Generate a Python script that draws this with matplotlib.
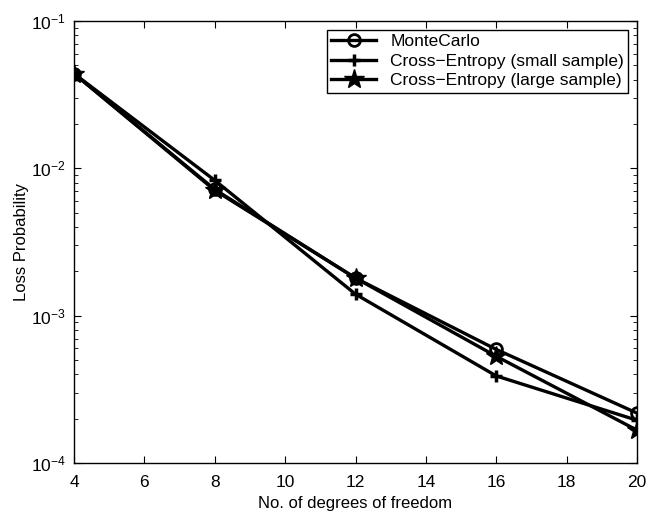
import matplotlib
matplotlib.use("Agg")
import matplotlib.pyplot as plt
from matplotlib.ticker import LogLocator, NullFormatter

plt.rcParams["font.family"] = ["Liberation Sans", "DejaVu Sans"]
plt.rcParams["mathtext.fontset"] = "custom"
plt.rcParams["mathtext.rm"] = "Liberation Sans"
plt.rcParams["mathtext.it"] = "Liberation Sans"

# data
dof = [4, 8, 12, 16, 20]
monte_carlo = [0.044, 0.0072, 0.0018, 0.00059, 0.000218]
ce_small = [0.044, 0.0083, 0.0014, 0.00039, 0.000195]
ce_large = [0.044, 0.0071, 0.0018, 0.00053, 0.000167]

labels = ["MonteCarlo", "Cross\u2212Entropy (small sample)", "Cross\u2212Entropy (large sample)"]
xticks = [4, 6, 8, 10, 12, 14, 16, 18, 20]

fig = plt.figure(figsize=(6.52, 5.15), dpi=100)
ax = fig.add_axes([0.1135, 0.101, 0.8635, 0.858])

ax.plot(dof, monte_carlo, color="black", lw=2.4, marker="o", ms=8.5,
        mfc="none", mew=2, label=labels[0])
ax.plot(dof, ce_small, color="black", lw=2.4, marker="+", ms=8,
        mew=2.5, label=labels[1])
ax.plot(dof, ce_large, color="black", lw=2.4, marker="*", ms=15,
        mew=1, label=labels[2])

ax.set_yscale("log")
ax.set_xlim(4, 20)
ax.set_ylim(1e-4, 1e-1)
ax.set_xticks(xticks)
ax.set_yticks([1e-4, 1e-3, 1e-2, 1e-1])
ax.yaxis.set_minor_locator(LogLocator(base=10, subs=range(2, 10)))
ax.yaxis.set_minor_formatter(NullFormatter())

ax.tick_params(which="both", direction="in", top=True, right=True, labelsize=12.5)
ax.tick_params(which="major", length=5)
ax.tick_params(which="minor", length=3)
ax.tick_params(axis="x", which="major", pad=9)
ax.tick_params(axis="y", which="major", pad=6)
for spine in ax.spines.values():
    spine.set_linewidth(1)

ax.set_xlabel("No. of degrees of freedom", fontsize=12, labelpad=4)
ax.set_ylabel("Loss Probability", fontsize=12, labelpad=1)

leg = ax.legend(loc="upper right", fontsize=12.5, fancybox=False,
                edgecolor="black", framealpha=1, borderaxespad=0.5,
                handlelength=2.6, labelspacing=0.25, borderpad=0.25)
leg.get_frame().set_linewidth(1)

fig.savefig("out.png", dpi=100, facecolor="white")
